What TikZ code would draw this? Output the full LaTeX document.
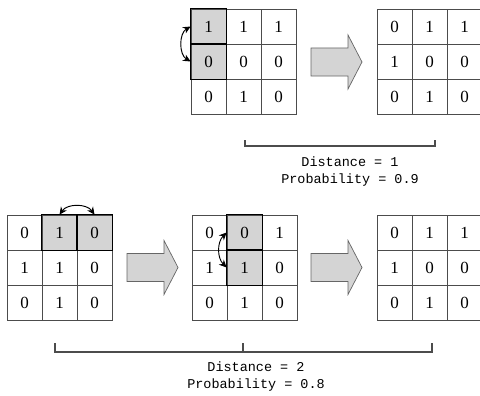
\documentclass[tikz,border=0pt]{standalone}
\usepackage{fontspec}
\setmainfont{Liberation Serif}
\setmonofont{Liberation Mono}
\usetikzlibrary{arrows.meta}

\tikzset{
  cell/.style={draw=black!70, line width=0.6pt, minimum size=1.05cm, inner sep=0pt,
    font=\fontsize{14.5}{16}\selectfont},
  cellon/.style={fill=black!17},
  celloff/.style={},
  hl/.style={draw=black, line width=1.3pt},
  swap/.style={{Stealth[length=6.5pt,width=6pt]}-{Stealth[length=6.5pt,width=6pt]}, line width=0.8pt},
  bigarrow/.style={draw=black!60, fill=black!17, line width=0.6pt},
  brace/.style={draw=black!70, line width=0.9pt},
  caption/.style={font=\ttfamily\fontsize{11.5}{14.5}\selectfont, align=center}
}

\begin{document}
\begin{tikzpicture}[x=0.03cm, y=-0.03cm]
    \useasboundingbox (0,0) rectangle (480,396);
    % top row
    \foreach \v/\f [count=\i from 0] in {1/cellon,1/celloff,1/celloff,0/cellon,0/celloff,0/celloff,0/celloff,1/celloff,0/celloff} {
        \pgfmathtruncatemacro\r{\i/3} \pgfmathtruncatemacro\c{mod(\i,3)}
        \node[cell,\f] (g1-\r-\c) at (208.5+35*\c, 26.5+35*\r) {\v};
    }
    \foreach \v/\f [count=\i from 0] in {0/celloff,1/celloff,1/celloff,1/celloff,0/celloff,0/celloff,0/celloff,1/celloff,0/celloff} {
        \pgfmathtruncatemacro\r{\i/3} \pgfmathtruncatemacro\c{mod(\i,3)}
        \node[cell,\f] (g2-\r-\c) at (394.5+35*\c, 26.5+35*\r) {\v};
    }
    % bottom row
    \foreach \v/\f [count=\i from 0] in {0/celloff,1/cellon,0/cellon,1/celloff,1/celloff,0/celloff,0/celloff,1/celloff,0/celloff} {
        \pgfmathtruncatemacro\r{\i/3} \pgfmathtruncatemacro\c{mod(\i,3)}
        \node[cell,\f] (g3-\r-\c) at (24.5+35*\c, 232.5+35*\r) {\v};
    }
    \foreach \v/\f [count=\i from 0] in {0/celloff,0/cellon,1/celloff,1/celloff,1/cellon,0/celloff,0/celloff,1/celloff,0/celloff} {
        \pgfmathtruncatemacro\r{\i/3} \pgfmathtruncatemacro\c{mod(\i,3)}
        \node[cell,\f] (g4-\r-\c) at (209.5+35*\c, 232.5+35*\r) {\v};
    }
    \foreach \v/\f [count=\i from 0] in {0/celloff,1/celloff,1/celloff,1/celloff,0/celloff,0/celloff,0/celloff,1/celloff,0/celloff} {
        \pgfmathtruncatemacro\r{\i/3} \pgfmathtruncatemacro\c{mod(\i,3)}
        \node[cell,\f] (g5-\r-\c) at (394.5+35*\c, 232.5+35*\r) {\v};
    }
    % swapped cells
    \foreach \n in {g1-0-0,g1-1-0,g3-0-1,g3-0-2,g4-0-1,g4-1-1}
        \draw[hl] (\n.north west) rectangle (\n.south east);
    \draw[swap] (g1-0-0.west) to[bend right=60] (g1-1-0.west);
    \draw[swap] (g3-0-1.north) to[bend left=55] (g3-0-2.north);
    \draw[swap] (g4-0-1.west) to[bend right=45] (g4-1-1.west);
    % big arrows
    \foreach \x/\y in {311/62, 127/267.5, 311/267.5}
        \draw[bigarrow] (\x,{\y-14}) -- ({\x+37},{\y-14}) -- ({\x+37},{\y-27}) -- ({\x+51},\y)
            -- ({\x+37},{\y+27}) -- ({\x+37},{\y+14}) -- (\x,{\y+14}) -- cycle;
    % brackets
    \draw[brace] (245,140) -- (245,146) -- (435,146) -- (435,140);
    \draw[brace] (55,343) -- (55,352) -- (432,352) -- (432,343);
    \draw[brace] (243,343) -- (243,352);
    \node[caption] (cap1) at (350,171.5) {Distance = 1\\Probability = 0.9};
    \node[caption] (cap2) at (256,376.5) {Distance = 2\\Probability = 0.8};
\end{tikzpicture}
\end{document}
